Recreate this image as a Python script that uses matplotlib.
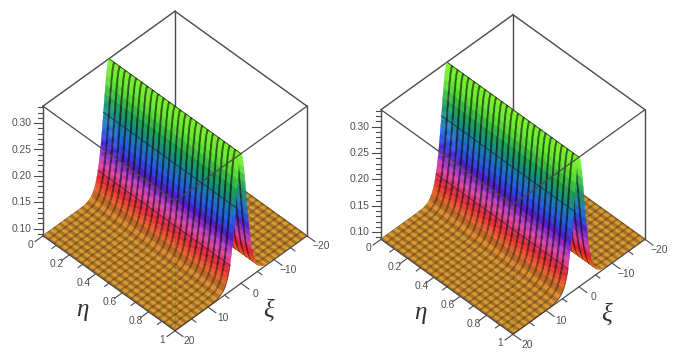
import matplotlib
matplotlib.use("Agg")
import matplotlib.pyplot as plt
import numpy as np
from matplotlib.colors import LinearSegmentedColormap
from mpl_toolkits.mplot3d import proj3d

# ridge cross section, one side only (it is symmetric)
# first 25 values: xi = 0 to 5 in steps of 5/24, the rest: xi up to 20 in steps of 5/12
z_half = [
    0.3320, 0.3300, 0.3241, 0.3147, 0.3025, 0.2879, 0.2717, 0.2549, 0.2380, 0.2212,
    0.2054, 0.1907, 0.1767, 0.1646, 0.1537, 0.1437, 0.1355, 0.1284, 0.1220, 0.1165,
    0.1118, 0.1079, 0.1045, 0.1017, 0.0993,
    0.0957, 0.0931, 0.0912, 0.0900, 0.0891, 0.0884, 0.0880, 0.0877, 0.0875, 0.0874,
    0.0873, 0.0872, 0.0872, 0.0871, 0.0871, 0.0871, 0.0871, 0.0870, 0.0870, 0.0870,
    0.0870, 0.0870, 0.0870, 0.0870, 0.0870, 0.0870, 0.0870, 0.0870, 0.0870, 0.0870,
    0.0870, 0.0870, 0.0870, 0.0870, 0.0870, 0.0870,
]
z_ticks = [0.10, 0.15, 0.20, 0.25, 0.30]
z_tick_labels = ["0.10", "0.15", "0.20", "0.25", "0.30"]
eta_ticks = [0, 0.2, 0.4, 0.6, 0.8, 1]
eta_tick_labels = ["0", "0.2", "0.4", "0.6", "0.8", "1"]
xi_ticks = [-20, -10, 0, 10, 20]
xi_tick_labels = ["\u221220", "\u221210", "0", "10", "20"]

Z_LOW = 0.0865
Z_TOP = 0.332
LINE = "#4a4a4a"
TEXT = "#505050"

hue_stops = [
    (0.00, "#dc9628"), (0.05, "#e67d23"), (0.12, "#eb3c28"), (0.17, "#e61e32"),
    (0.25, "#dc3ca0"), (0.31, "#aa32c8"), (0.39, "#501ed2"), (0.47, "#1e50e6"),
    (0.55, "#2378d2"), (0.63, "#148c8c"), (0.72, "#1ea055"), (0.87, "#64e632"),
    (1.00, "#82fa32"),
]
hue_map = LinearSegmentedColormap.from_list("ridge", hue_stops)


def surface_colors(z, xi):
    cell_z = (z[:-1, :-1] + z[1:, :-1] + z[:-1, 1:] + z[1:, 1:]) / 4
    f = (cell_z - Z_LOW) / (Z_TOP - Z_LOW)
    rgb = hue_map(f)[:, :, :3]

    # mesh lines: 6 cells per eta step, xi lines every 5/3
    eta_dark = np.array([1, 0, 0, 0, 0, 1.0])[np.arange(f.shape[0]) % 6]
    eta_dark[0] = 0
    eta_dark[-1] = 0
    xi_mid = (xi[:-1] + xi[1:]) / 2 / (5 / 3)
    xi_dark = (np.abs(xi_mid - np.round(xi_mid)) < 0.2) * 1.0
    steep = np.clip(f / 0.2, 0, 1)
    shade = 1 - (0.26 + 0.34 * steep) * eta_dark[:, None]
    shade = shade * (1 - 0.26 * (1 - steep) * xi_dark[None, :])
    return np.dstack([rgb * shade[:, :, None], np.ones(f.shape)])


def label(ax, x, y, z, s, **kw):
    # 3d point to 2d axes data, so the text sits where the box says
    x2, y2, _ = proj3d.proj_transform(x, y, z, ax.get_proj())
    ax.text2D(x2, y2, s, transform=ax.transData, ha=kw.pop("ha", "center"), va="center",
              clip_on=False, **kw)


def draw_panel(ax):
    xi_pos = np.concatenate([np.linspace(0, 5, 25), np.linspace(5, 20, 37)[1:]])
    xi = np.concatenate([-xi_pos[:0:-1], xi_pos])
    eta = np.linspace(0, 1, 145)
    profile = np.array(z_half[:0:-1] + z_half)
    mid = len(z_half) - 1
    X, Y = np.meshgrid(eta, xi, indexing="ij")
    Z = np.tile(profile, (len(eta), 1))

    ax.set_proj_type("ortho")
    ax.view_init(elev=46, azim=-45)
    ax.set_box_aspect((1, 1, 1), zoom=0.9232)
    ax.set_xlim(0, 1, view_margin=0)
    ax.set_ylim(20, -20, view_margin=0)
    ax.set_zlim(Z_LOW, Z_TOP, view_margin=0)
    ax.set_axis_off()
    ax.patch.set_alpha(0)

    ax.plot_surface(X, Y, Z, facecolors=surface_colors(Z, xi), rstride=1, cstride=1,
                    shade=False, linewidth=0.25, antialiased=True, zorder=2)

    # box edges
    back = [([0, 0], [20, -20], [Z_TOP, Z_TOP]), ([0, 1], [-20, -20], [Z_TOP, Z_TOP]),
            ([0, 0], [-20, -20], [Z_LOW, Z_TOP]), ([0, 0], [20, -20], [Z_LOW, Z_LOW]),
            ([0, 1], [-20, -20], [Z_LOW, Z_LOW]), ([1, 1], [-20, -20], [Z_LOW, Z_TOP]),
            ([0, 0], [20, 20], [Z_LOW, Z_TOP])]
    front = [([0, 1], [20, 20], [Z_TOP, Z_TOP]), ([1, 1], [20, -20], [Z_TOP, Z_TOP]),
             ([0, 1], [20, 20], [Z_LOW, Z_LOW]), ([1, 1], [20, -20], [Z_LOW, Z_LOW])]
    for xs, ys, zs in back:
        ax.plot(xs, ys, zs, color=LINE, lw=1.0, zorder=1, clip_on=False)
    for xs, ys, zs in front:
        ax.plot(xs, ys, zs, color=LINE, lw=0.9, zorder=3, clip_on=False)
    ax.plot([1, 1], [20, 20], [Z_LOW, Z_TOP], color="#6a5a30", lw=0.8, alpha=0.5,
            ls=(0, (2, 1.5)), zorder=3, clip_on=False)

    # mesh lines that run along the ridge on its near side
    for k, a in [(0, 0.75), (8, 0.75), (16, 0.6)]:
        ax.plot([0, 1], [xi[mid + k]] * 2, [profile[mid + k]] * 2, color="#202030",
                lw=0.7, alpha=a, zorder=3)
    ax.plot(np.ones(mid - 15), xi[mid + 16:], profile[mid + 16:], color="#5a3010", lw=0.7,
            alpha=0.7, zorder=3)

    # z axis on the left corner
    for v in np.arange(0.09, 0.331, 0.01):
        major = min(abs(v - t) for t in z_ticks) < 1e-6
        d = 0.034 if major else 0.019
        ax.plot([0, -d], [20, 20 + 40 * d], [v, v], color=LINE, lw=0.8, zorder=3, clip_on=False)
    for v, s in zip(z_ticks, z_tick_labels):
        label(ax, -0.042, 21.7, v, s, ha="right", fontsize=7.4, color=TEXT,
              family="Liberation Sans")

    # eta axis, front left
    for v in np.arange(0, 1.01, 0.1):
        d = 2.4 if round(v * 10) % 2 == 0 else 1.3
        ax.plot([v, v], [20, 20 + d], [Z_LOW, Z_LOW], color=LINE, lw=0.8, zorder=3, clip_on=False)
    for v, s in zip(eta_ticks, eta_tick_labels):
        label(ax, v, 23.8, Z_LOW, s, fontsize=7.4, color=TEXT, family="Liberation Sans")

    # xi axis, front right
    for v in np.arange(-20, 21, 5):
        d = 0.06 if v % 10 == 0 else 0.033
        ax.plot([1, 1 + d], [v, v], [Z_LOW, Z_LOW], color=LINE, lw=0.8, zorder=3, clip_on=False)
    for v, s in zip(xi_ticks, xi_tick_labels):
        label(ax, 1.11, v, Z_LOW, s, fontsize=7.4, color=TEXT, family="Liberation Sans")

    label(ax, 0.537, 29.7, Z_LOW, "\u03b7", fontsize=18, style="italic",
          family="Liberation Serif", color="#303030")
    label(ax, 1.25, 1.6, Z_LOW, "\u03be", fontsize=18, style="italic",
          family="Liberation Serif", color="#303030")


fig = plt.figure(figsize=(6.77, 3.53), dpi=100)
W = 340 / 677
H = 340 / 353
ax1 = fig.add_axes([0.4 / 677, 7.4 / 353, W, H], projection="3d", computed_zorder=False)
ax2 = fig.add_axes([338.4 / 677, 3.9 / 353, W, H], projection="3d", computed_zorder=False)
draw_panel(ax1)
draw_panel(ax2)

fig.savefig("out.png", dpi=100)
